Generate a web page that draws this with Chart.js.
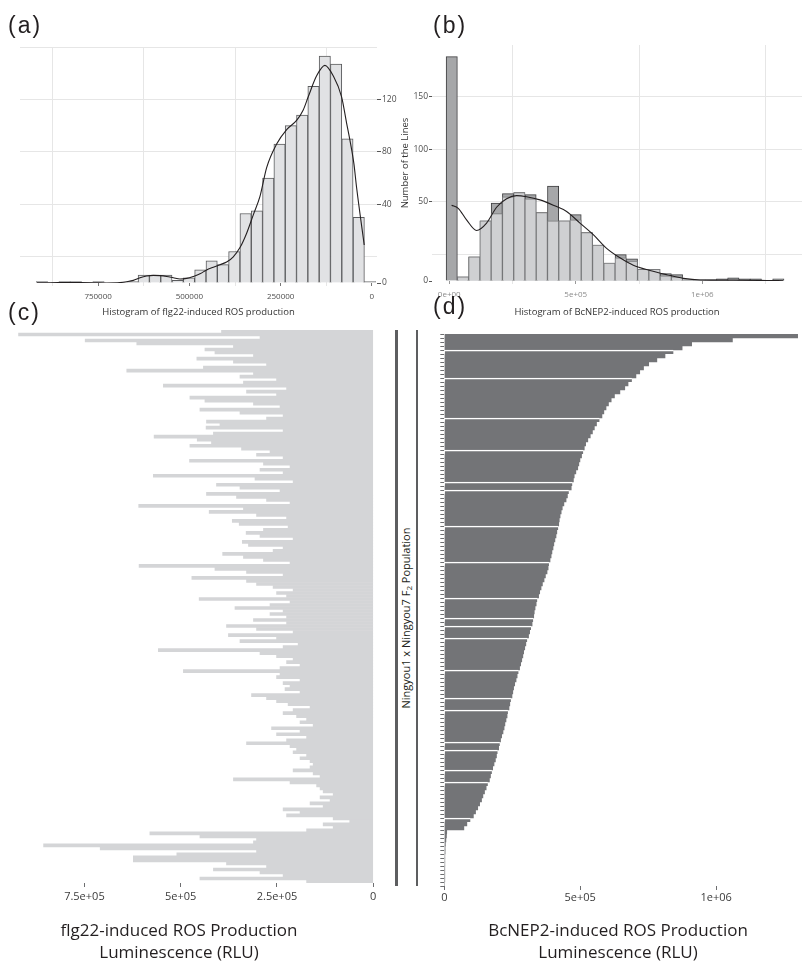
<!DOCTYPE html>
<html>
<head>
<meta charset="utf-8">
<title>ROS production, Ningyou1 x Ningyou7 F2</title>
<script src="https://cdn.jsdelivr.net/npm/chart.js"></script>
<style>
  body { margin: 0; background: #fff; }
  #fig { position: relative; width: 802px; height: 962px; overflow: hidden; font-family: 'Open Sans', sans-serif; color: #231f20; }
  canvas { position: absolute; }
  .tag { position: absolute; font-family: 'Liberation Sans', Arial, sans-serif; font-size: 23px; line-height: 22px; letter-spacing: 2px; }
  .title { position: absolute; width: 320px; font-size: 17px; line-height: 22px; text-align: center; }
  .rule { position: absolute; top: 330px; height: 556px; width: 2.5px; background: #5d5e60; }
  #pop { position: absolute; left: 286px; top: 610px; width: 240px; height: 16px; line-height: 16px; font-size: 11px; text-align: center; transform: rotate(-90deg); }
</style>
</head>
<body>
<div id="fig">
  <canvas id="histFlg" width="400" height="322" style="left:0;top:0"></canvas>
  <canvas id="histNep" width="402" height="322" style="left:400px;top:0"></canvas>
  <canvas id="barsFlg" width="392" height="600" style="left:0;top:322px"></canvas>
  <canvas id="barsNep" width="382" height="600" style="left:420px;top:322px"></canvas>

  <div class="tag" style="left:8px;top:14px">(a)</div>
  <div class="tag" style="left:433px;top:14px">(b)</div>
  <div class="tag" style="left:8px;top:301px">(c)</div>
  <div class="tag" style="left:433px;top:295px">(d)</div>

  <div class="rule" style="left:395px"></div>
  <div class="rule" style="left:415.5px"></div>
  <div id="pop">Ningyou1 x Ningyou7 F<sub style="font-size:8px;vertical-align:-2px">2</sub> Population</div>

  <div class="title" style="left:19px;top:919px">flg22-induced ROS Production<br>Luminescence (RLU)</div>
  <div class="title" style="left:458px;top:919px">BcNEP2-induced ROS Production<br>Luminescence (RLU)</div>
</div>

<script>
// (a) flg22 histogram: bin centres (RLU) and number of lines per bin
const flgBins = [5e3, 36e3, 67e3, 98e3, 129e3, 160e3, 191e3, 222e3, 253e3, 284e3,
  315e3, 346e3, 377e3, 408e3, 439e3, 470e3, 501e3, 532e3, 563e3, 594e3,
  625e3, 656e3, 687e3, 718e3, 749e3, 780e3, 811e3, 842e3, 873e3, 904e3];
const flgCounts = [1, 50, 110, 167, 173, 150, 128, 120, 106, 80,
  55, 53, 24, 14, 17, 10, 4, 2, 6, 6,
  6, 1, 0, 0, 1, 0, 1, 1, 0, 1];
// density curve of (a), in the same count units
const flgDensX = [21e3, 42e3, 49.3e3, 60.2e3, 69.3e3, 83e3, 106e3, 128.7e3, 151.4e3, 174.4e3,
  188.1e3, 206.2e3, 233.5e3, 260.9e3, 288.3e3, 306.6e3, 324.9e3, 343.1e3, 361.4e3, 379.7e3,
  397.9e3, 416.2e3, 434.4e3, 452.7e3, 470.9e3, 489.2e3, 507.4e3, 525.7e3, 544e3, 562.2e3,
  580.4e3, 598.7e3, 617e3, 635.2e3, 653.5e3, 671.7e3, 690e3, 726.5e3, 763e3, 799.5e3,
  836e3, 881.7e3, 918e3];
const flgDensY = [29, 73, 91, 109, 122, 142, 158, 166, 158, 142,
  132, 124, 117, 106, 88, 66, 52, 38, 27, 20,
  16, 14, 12, 10, 7, 5, 3.5, 3, 4, 5,
  5.6, 5.8, 5.3, 4, 2, 1, 0.3, 0, 0.2, 0.3,
  0.3, 0.2, 0.2];
const flgTicks = [0, 125e3, 250e3, 375e3, 500e3, 625e3, 750e3, 875e3];

// (b) BcNEP2 histogram: two overlaid layers (back = darker)
const nepBins = [10e3, 54.5e3, 99e3, 143.5e3, 188e3, 232.5e3, 277e3, 321.5e3, 366e3, 410.5e3,
  455e3, 499.5e3, 544e3, 588.5e3, 633e3, 677.5e3, 722e3, 766.5e3, 811e3, 855.5e3,
  900e3, 944.5e3, 989e3, 1033.5e3, 1078e3, 1122.5e3, 1167e3, 1211.5e3, 1256e3, 1300.5e3];
const nepBack = [213, 4, 23, 57, 74, 83, 84, 82, 65, 90,
  57, 63, 46, 34, 17, 25, 21, 11, 11, 7,
  6, 1, 1, 1, 2, 3, 2, 2, 0, 2];
const nepFront = [0, 4, 23, 57, 64, 80, 84, 78, 65, 57,
  57, 58, 46, 34, 17, 22, 19, 11, 11, 5,
  4, 1, 1, 1, 1, 2, 1, 1, 0, 1];
const nepDensX = [9.4e3, 35.7e3, 68.6e3, 108.2e3, 147.7e3, 187.2e3, 226.8e3, 266.3e3, 305.8e3, 358.5e3,
  411.2e3, 463.9e3, 516.6e3, 569.3e3, 622e3, 674.7e3, 727.4e3, 793.3e3, 859.2e3, 925e3,
  991e3, 1122.7e3, 1254.4e3, 1320e3];
const nepDensY = [72, 69, 58, 48, 55, 70, 78, 81, 80, 77,
  72, 66, 55, 44, 31, 22, 15, 10, 6, 2.5,
  1, 0.8, 0.5, 0.3];
const nepTicks = [0, 250e3, 500e3, 750e3, 1e6, 1.25e6];

// (c) flg22 ROS per F2 line, top to bottom
const flg22 = [
  394e3, 921e3, 294e3, 748e3, 614e3, 363e3, 437e3, 411e3, 311e3, 458e3,
  363e3, 277e3, 441e3, 640e3, 311e3, 346e3, 251e3, 337e3, 545e3, 225e3,
  329e3, 251e3, 476e3, 437e3, 311e3, 242e3, 450e3, 346e3, 234e3, 277e3,
  433e3, 398e3, 434e3, 234e3, 415e3, 569e3, 457e3, 420e3, 476e3, 342e3,
  268e3, 303e3, 234e3, 477e3, 285e3, 216e3, 294e3, 234e3, 571e3, 307e3,
  208e3, 407e3, 346e3, 242e3, 433e3, 355e3, 277e3, 216e3, 609e3, 337e3,
  426e3, 303e3, 225e3, 366e3, 348e3, 221e3, 285e3, 330e3, 294e3, 208e3,
  340e3, 324e3, 234e3, 260e3, 391e3, 337e3, 285e3, 216e3, 608e3, 411e3,
  329e3, 234e3, 471e3, 329e3, 303e3, 260e3, 208e3, 251e3, 225e3, 452e3,
  216e3, 268e3, 359e3, 234e3, 268e3, 225e3, 311e3,
  225e3, 381e3, 303e3, 208e3, 376e3, 251e3, 346e3, 195e3, 234e3, 558e3,
  294e3, 251e3, 208e3, 225e3, 190e3, 242e3, 493e3, 242e3, 251e3, 190e3,
  234e3, 216e3, 229e3, 190e3, 316e3, 277e3, 251e3, 221e3, 164e3, 208e3,
  234e3, 199e3, 173e3, 190e3, 156e3, 264e3, 190e3, 251e3, 173e3, 225e3,
  329e3, 216e3, 199e3, 208e3, 173e3, 190e3, 164e3, 156e3, 164e3, 208e3,
  156e3, 138e3, 363e3, 216e3, 147e3, 138e3, 130e3, 104e3, 138e3, 112e3,
  164e3, 130e3, 234e3, 190e3, 225e3, 104e3, 61e3, 130e3, 104e3, 173e3,
  580e3, 450e3, 303e3, 311e3, 856e3, 709e3, 303e3, 510e3, 623e3, 623e3,
  381e3, 277e3, 415e3, 294e3, 234e3, 450e3, 173e3
];
const flgLineTicks = [0, 250e3, 500e3, 750e3];

// (d) BcNEP2 ROS per F2 line, sorted high to low
const bcnep2 = [
  1300e3, 1060e3, 910e3, 875e3, 843e3, 812e3, 782e3, 752e3, 733e3, 719e3,
  705e3, 690e3, 676e3, 664e3, 646e3, 626e3, 614e3, 604e3, 595e3, 587e3,
  580e3, 571e3, 560e3, 552e3, 545e3, 537e3, 528e3, 520e3, 515e3, 511e3,
  505e3, 499e3, 495e3, 491e3, 484e3, 478e3, 475e3, 471e3, 467e3, 458e3,
  453e3, 448e3, 440e3, 434e3, 430e3, 426e3, 423e3, 421e3, 419e3, 414e3,
  411e3, 407e3, 403e3, 400e3, 396e3, 393e3, 389e3, 385e3, 382e3, 378e3,
  372e3, 367e3, 361e3, 356e3, 351e3, 347e3, 342e3, 338e3, 334e3, 331e3,
  329e3, 327e3, 323e3, 319e3, 314e3, 310e3, 305e3, 300e3, 296e3, 292e3,
  289e3, 285e3, 281e3, 277e3, 273e3, 268e3, 264e3, 259e3, 255e3, 252e3,
  249e3, 245e3, 241e3, 238e3, 234e3, 231e3, 227e3, 223e3, 220e3, 216e3,
  211e3, 207e3, 204e3, 200e3, 196e3, 192e3, 188e3, 183e3, 178e3, 175e3,
  170e3, 166e3, 160e3, 154e3, 148e3, 142e3, 137e3, 130e3, 123e3, 115e3,
  107e3, 96e3, 83e3, 72e3, 9e3, 8e3, 6e3, 4e3, 3e3, 3e3,
  2e3, 2e3, 2e3, 1e3, 1e3, 1e3, 1e3, 0
];
const nepLineTicks = [0, 500e3, 1e6];
// rows of (d) that show a thin white seam above them
const nepSeams = [4, 11, 21, 29, 37, 39, 48, 57, 66, 71, 73, 76, 84, 91, 94, 102, 104, 109, 112, 121];

Chart.defaults.font.family = "'Open Sans', sans-serif";
Chart.defaults.color = '#444';
Chart.defaults.animation = false;
Chart.defaults.responsive = false;
Chart.defaults.plugins.legend.display = false;
Chart.defaults.plugins.tooltip.enabled = false;

const none = 'rgba(0,0,0,0)';
const gridGrey = '#e6e6e6';
const pts = (xs, ys) => xs.map((x, i) => ({ x: x, y: ys[i] }));
const useTicks = list => s => { s.ticks = list.map(v => ({ value: v })); };

function sci(v) {
  const parts = v.toExponential().split('e');
  const e = parseInt(parts[1], 10);
  return parts[0] + 'e' + (e < 0 ? '-' : '+') + String(Math.abs(e)).padStart(2, '0');
}

// the printed count labels of (a) and (b) sit half a step above the bar base, as in the source
function flgLabel(v) {
  if (v === 0) return '0';
  return (v % 40 === 20 && v > 20 && v < 180) ? String(v - 20) : '';
}
function nepLabel(v) {
  if (v === 0) return '0';
  return (v % 50 === 25 && v > 25 && v < 200) ? String(v - 25) : '';
}

// (a)
new Chart(document.getElementById('histFlg'), {
  type: 'bar',
  data: {
    datasets: [
      { type: 'line', data: pts(flgDensX, flgDensY), borderColor: '#231f20', borderWidth: 1.1,
        pointRadius: 0, cubicInterpolationMode: 'monotone', order: 0 },
      { data: pts(flgBins, flgCounts), backgroundColor: '#e1e2e4', borderColor: '#5b5c5e',
        borderWidth: 1, barPercentage: 1, categoryPercentage: 1, order: 1 }
    ]
  },
  options: {
    layout: { padding: { left: 20, top: 47, right: 0, bottom: 4 } },
    scales: {
      x: {
        type: 'linear', reverse: true, min: -14000, max: 964000, offset: false,
        afterBuildTicks: useTicks(flgTicks),
        afterFit: s => { s.height = 35; },
        border: { display: false },
        grid: { offset: false, tickLength: 3,
          color: c => c.tick && c.tick.value % 250000 ? gridGrey : none,
          tickColor: c => c.tick && c.tick.value % 250000 ? gridGrey : '#777' },
        ticks: { padding: 6, maxRotation: 0, autoSkip: false,
          font: { size: 8 }, color: '#4d4d4d', callback: v => v % 250000 ? '' : String(v) },
        title: { display: true, text: 'Histogram of flg22-induced ROS production',
          font: { size: 9.5 }, color: '#333', padding: 0 }
      },
      y: {
        position: 'right', min: 0, max: 180,
        afterFit: s => { s.width = 23; },
        border: { display: false },
        grid: { tickLength: 4,
          color: c => c.tick && c.tick.value % 40 === 20 ? gridGrey : none,
          tickColor: c => c.tick && flgLabel(c.tick.value) ? '#555' : none },
        ticks: { stepSize: 20, padding: 1, font: { size: 8.5 }, color: '#4d4d4d', callback: v => flgLabel(v) }
      }
    }
  }
});

// (b)
new Chart(document.getElementById('histNep'), {
  type: 'bar',
  data: {
    datasets: [
      { type: 'line', data: pts(nepDensX, nepDensY), borderColor: '#231f20', borderWidth: 1.1,
        pointRadius: 0, cubicInterpolationMode: 'monotone', order: 0 },
      { data: pts(nepBins, nepFront), backgroundColor: '#cfd0d2', borderColor: '#7a7b7d',
        borderWidth: 1, barPercentage: 1, categoryPercentage: 1, grouped: false, order: 1 },
      { data: pts(nepBins, nepBack), backgroundColor: '#a6a7a9', borderColor: '#3e3e40',
        borderWidth: 1, barPercentage: 1, categoryPercentage: 1, grouped: false, order: 2 }
    ]
  },
  options: {
    layout: { padding: { left: 0, top: 45, right: 0, bottom: 4 } },
    scales: {
      x: {
        type: 'linear', min: -68000, max: 1394000, offset: false,
        afterBuildTicks: useTicks(nepTicks),
        afterFit: s => { s.height = 37; },
        border: { display: false },
        grid: { offset: false, tickLength: 3,
          color: c => c.tick && c.tick.value % 500000 ? gridGrey : none,
          tickColor: c => c.tick && c.tick.value % 500000 ? gridGrey : '#999' },
        ticks: { padding: 6, maxRotation: 0, autoSkip: false,
          font: { size: 8 }, color: '#8c8c8c',
          callback: v => v % 500000 ? '' : (v === 0 ? '0e+00' : sci(v)) },
        title: { display: true, text: 'Histogram of BcNEP2-induced ROS production',
          font: { size: 9.5 }, color: '#333', padding: 0 }
      },
      y: {
        min: 0, max: 224,
        afterFit: s => { s.width = 32; },
        border: { display: false },
        grid: { tickLength: 3,
          color: c => c.tick && c.tick.value % 50 === 25 ? gridGrey : none,
          tickColor: c => c.tick && nepLabel(c.tick.value) ? '#555' : none },
        ticks: { stepSize: 25, includeBounds: false, padding: 1, font: { size: 8.5 }, color: '#4d4d4d',
          callback: v => nepLabel(v) },
        title: { display: true, text: 'Number of the Lines', font: { size: 9.5 }, color: '#333', padding: 0 }
      }
    }
  }
});

// (c)
new Chart(document.getElementById('barsFlg'), {
  type: 'bar',
  data: {
    labels: flg22.map((v, i) => 'line ' + (i + 1)),
    datasets: [{ data: flg22, backgroundColor: '#d4d5d7', barPercentage: 1, categoryPercentage: 1 }]
  },
  options: {
    indexAxis: 'y',
    layout: { padding: { left: 2, top: 8, right: 18, bottom: 0 } },
    scales: {
      y: { display: false },
      x: {
        reverse: true, min: -2000, max: 964000,
        afterBuildTicks: useTicks(flgLineTicks),
        afterFit: s => { s.height = 39; },
        border: { display: false },
        grid: { drawOnChartArea: false, tickLength: 4, tickColor: '#6d6e70' },
        ticks: { padding: 3, maxRotation: 0, autoSkip: false,
          font: { size: 11 }, color: '#3b3b3b', callback: v => v === 0 ? '0' : sci(v) }
      }
    }
  }
});

// (d)
new Chart(document.getElementById('barsNep'), {
  type: 'bar',
  data: {
    labels: bcnep2.map((v, i) => 'line ' + (i + 1)),
    datasets: [{
      data: bcnep2, backgroundColor: '#737477', borderColor: '#ffffff',
      borderWidth: c => nepSeams.includes(c.dataIndex) ? { top: 1.5 } : 0,
      barPercentage: 1, categoryPercentage: 1
    }]
  },
  options: {
    indexAxis: 'y',
    layout: { padding: { left: 20.3, top: 12, right: 0, bottom: 0 } },
    scales: {
      y: {
        afterFit: s => { s.width = 4; },
        border: { display: false },
        grid: { drawOnChartArea: false, tickLength: 4, tickColor: '#6d6e70' },
        ticks: { display: false }
      },
      x: {
        min: 0, max: 1316000,
        afterBuildTicks: useTicks(nepLineTicks),
        afterFit: s => { s.height = 36; },
        border: { display: false },
        grid: { drawOnChartArea: false, tickLength: 4, tickColor: '#6d6e70' },
        ticks: { padding: 1, maxRotation: 0, autoSkip: false,
          font: { size: 11 }, color: '#3b3b3b', callback: v => v === 0 ? '0' : sci(v) }
      }
    }
  }
});
</script>
</body>
</html>
